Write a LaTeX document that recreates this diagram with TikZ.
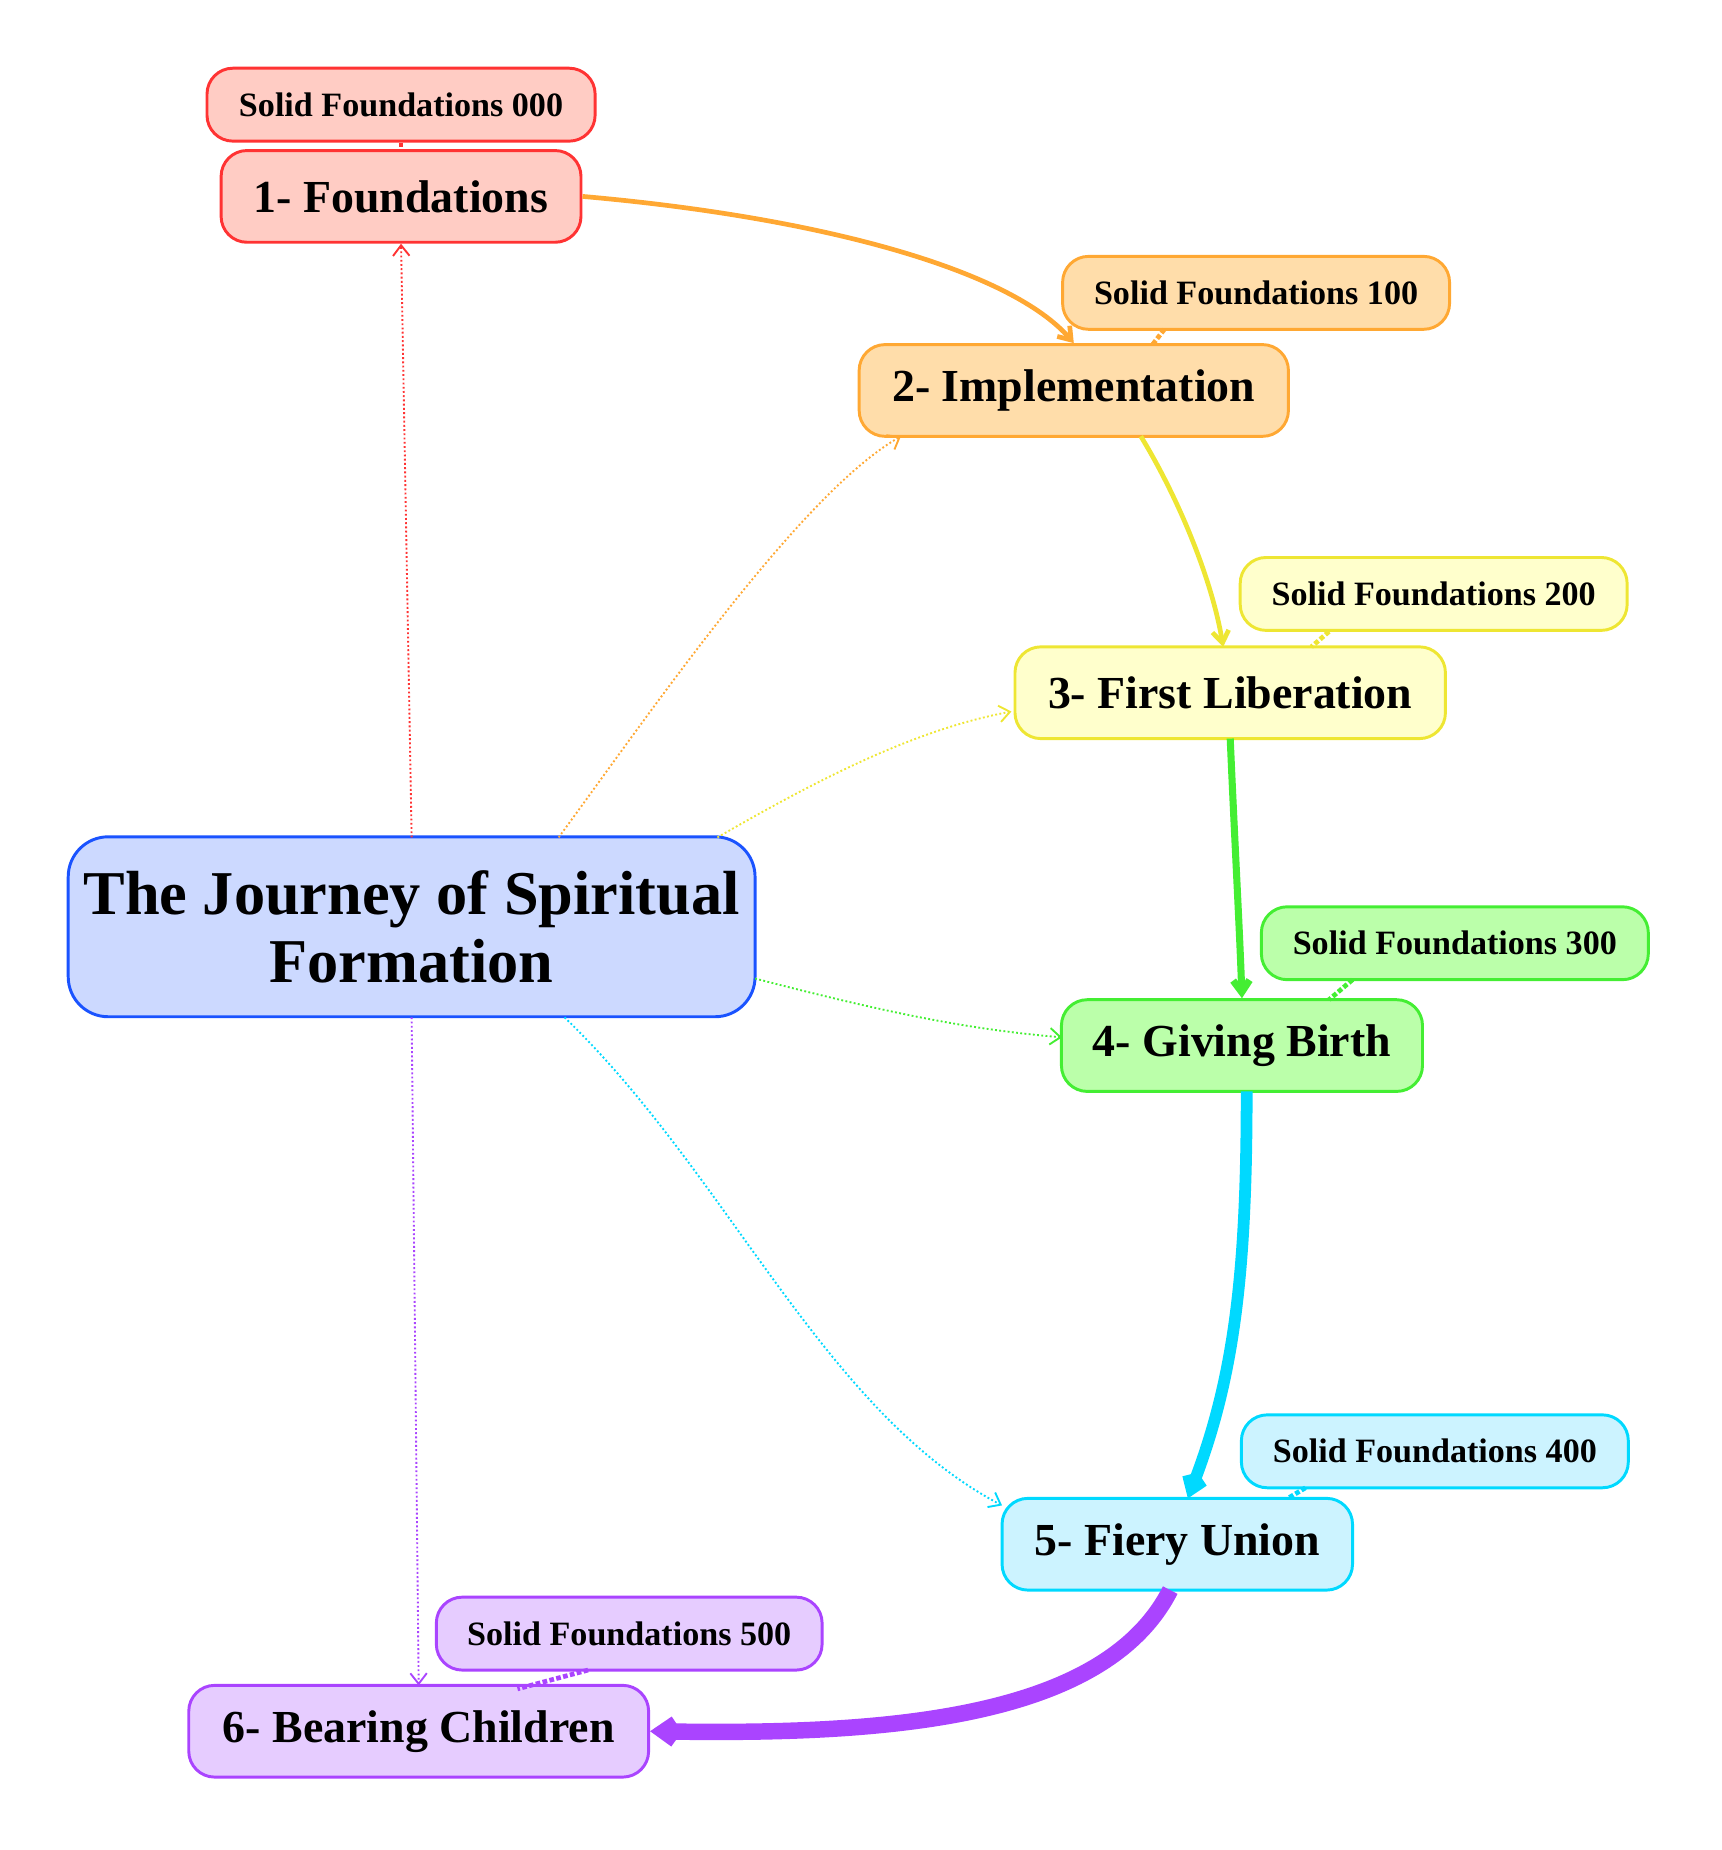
\documentclass[tikz,border=0pt]{standalone}
\usepackage{fontspec}
\setmainfont{Liberation Serif}
\usetikzlibrary{arrows.meta}
\definecolor{cmain}{HTML}{1A53FF}\definecolor{fmain}{HTML}{CCD9FF}
\definecolor{ca}{HTML}{FF3333}\definecolor{fa}{HTML}{FFCCC4}
\definecolor{cb}{HTML}{FFA833}\definecolor{fb}{HTML}{FFDDAA}
\definecolor{cc}{HTML}{EEE633}\definecolor{fc}{HTML}{FFFFCC}
\definecolor{cd}{HTML}{44EE33}\definecolor{fd}{HTML}{BBFFAA}
\definecolor{ce}{HTML}{00D9FF}\definecolor{fe}{HTML}{CCF3FF}
\definecolor{cf}{HTML}{AA44FF}\definecolor{ff}{HTML}{E6CCFF}
\tikzset{
  stage/.style={draw=#1, line width=2.5pt, rounded corners=22pt, minimum height=78pt,
    inner xsep=10pt, font=\fontsize{39}{42}\selectfont\bfseries},
  note/.style={draw=#1, line width=2.5pt, rounded corners=22pt, minimum height=62pt,
    inner xsep=10pt, font=\fontsize{29}{32}\selectfont\bfseries},
  path/.style={draw=#1, -{Straight Barb[length=10pt,width=14pt]}},
  link/.style={draw=#1, line width=1.6pt, dotted, -{Straight Barb[length=9pt,width=14pt]}},
  tie/.style={draw=#1, line width=4pt, dotted}
}
\begin{document}
\begin{tikzpicture}[x=1pt,y=-1pt]
\useasboundingbox (0,0) rectangle (1464,1573);
\node[draw=cmain, fill=fmain, line width=2.5pt, rounded corners=34pt, minimum width=584pt,
  minimum height=153pt, align=center, font=\fontsize{53}{58}\selectfont\bfseries]
  (journey) at (350,788) {The Journey of Spiritual\\Formation};
\node[stage=ca, fill=fa, minimum width=306pt] (found) at (341,167) {1- Foundations};
\node[stage=cb, fill=fb, minimum width=365pt] (impl) at (913,332) {2- Implementation};
\node[stage=cc, fill=fc, minimum width=366pt] (lib) at (1046,589) {3- First Liberation};
\node[stage=cd, fill=fd, minimum width=307pt] (birth) at (1056,889) {4- Giving Birth};
\node[stage=ce, fill=fe, minimum width=298pt] (union) at (1001,1313) {5- Fiery Union};
\node[stage=cf, fill=ff, minimum width=391pt] (children) at (356,1472) {6- Bearing Children};

\node[note=ca, fill=fa, minimum width=330pt] (sf0) at (341,89) {Solid Foundations 000};
\node[note=cb, fill=fb, minimum width=329pt] (sf1) at (1068,249) {Solid Foundations 100};
\node[note=cc, fill=fc, minimum width=329pt] (sf2) at (1219,505) {Solid Foundations 200};
\node[note=cd, fill=fd, minimum width=329pt] (sf3) at (1237,802) {Solid Foundations 300};
\node[note=ce, fill=fe, minimum width=329pt] (sf4) at (1220,1234) {Solid Foundations 400};
\node[note=cf, fill=ff, minimum width=328pt] (sf5) at (535,1389) {Solid Foundations 500};

% main path
\draw[path=cb, line width=4pt] (found.east) .. controls (700,185) and (860,230) .. (impl.north);
\draw[path=cc, line width=4pt] (impl.south |- 0,371) ++(57,0) .. controls (1000,420) and (1030,490) .. (1040,550);
\draw[path=cd, line width=6pt] (1046,628) .. controls (1050,720) and (1054,790) .. (birth.north);
\draw[path=ce, line width=10pt] (1060,928) .. controls (1060,1080) and (1050,1170) .. (1010,1274);
\draw[path=cf, line width=14pt] (995,1352) .. controls (940,1460) and (760,1475) .. (children.east);

% links from the centre
\draw[link=ca] (350,712) -- (found.south);
\draw[link=cb] (475,712) .. controls (550,610) and (680,420) .. (766,371);
\draw[link=cc] (610,712) .. controls (700,660) and (780,620) .. (860,605);
\draw[link=cd] (642,832) .. controls (750,860) and (820,875) .. (903,882);
\draw[link=ce] (480,865) .. controls (620,1000) and (700,1200) .. (852,1280);
\draw[link=cf] (350,865) -- (356,1433);

% notes
\draw[tie=ca] (sf0.south) -- (found.north);
\draw[tie=cb] (990,280) -- (980,293);
\draw[tie=cc] (1130,537) -- (1115,550);
\draw[tie=cd] (1150,833) -- (1130,850);
\draw[tie=ce] (1110,1265) -- (1095,1274);
\draw[tie=cf] (500,1420) -- (440,1436);
\end{tikzpicture}
\end{document}
